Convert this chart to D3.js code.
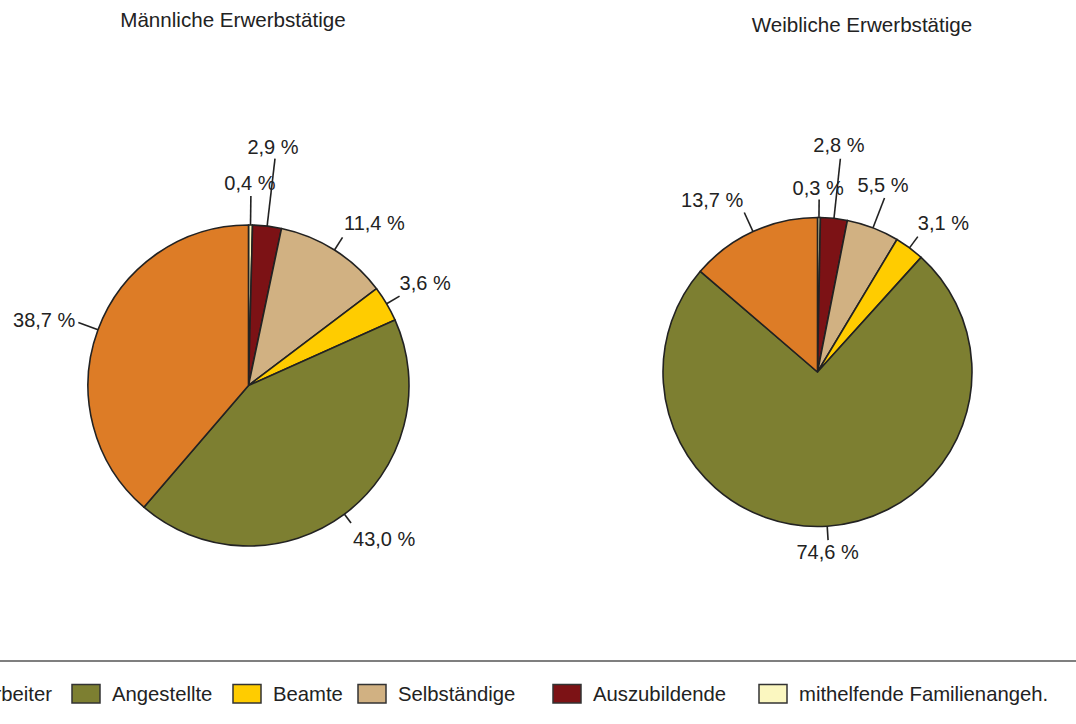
<!DOCTYPE html>
<html>
<head>
<meta charset="utf-8">
<script src="https://cdn.jsdelivr.net/npm/d3@7"></script>
<style>
  html, body { margin: 0; padding: 0; background: #ffffff; }
  svg { display: block; font-family: "Liberation Sans", Arial, sans-serif; }
</style>
</head>
<body>
<svg id="chart" width="1076" height="724"></svg>
<script>
// ---- data ----
const categories = ["mithelfende Familienangeh.", "Auszubildende", "Selbständige", "Beamte", "Angestellte", "Arbeiter"];
const maleValues = [0.4, 2.9, 11.4, 3.6, 43.0, 38.7];
const femaleValues = [0.3, 2.8, 5.5, 3.1, 74.6, 13.7];
const chartTitles = ["Männliche Erwerbstätige", "Weibliche Erwerbstätige"];
const legendOrder = ["Arbeiter", "Angestellte", "Beamte", "Selbständige", "Auszubildende", "mithelfende Familienangeh."];

// ---- styles / layout ----
const colors = {
  "Arbeiter": "#dd7c26",
  "Angestellte": "#7d7f31",
  "Beamte": "#ffcc00",
  "Selbständige": "#d1b182",
  "Auszubildende": "#7c1215",
  "mithelfende Familienangeh.": "#fbf7c0"
};
const textColor = "#222222";
const strokeColor = "#222222";

// per-slice label layout: [leader length, anchor, dx, dy]
const maleLabelLayout = [
  [29, "middle", -1, -6],
  [68, "middle", -2, -4.5],
  [15, "start", 1.5, -7],
  [15, "start", 0, -6],
  [11, "start", 2, 23],
  [21, "end", -3, 5]
];
const femaleLabelLayout = [
  [18, "middle", -1, -4.5],
  [60, "middle", -1.5, -7],
  [32, "middle", -1.5, -6.3],
  [14, "start", 0, -6.6],
  [14, "middle", -0.5, 19],
  [21, "end", -1, -5.6]
];

const pies = [
  { values: maleValues, title: chartTitles[0], cx: 248.5, cy: 385.5, r: 160.5, tx: 233, ty: 27, layout: maleLabelLayout },
  { values: femaleValues, title: chartTitles[1], cx: 817.5, cy: 372, r: 154.5, tx: 862, ty: 32, layout: femaleLabelLayout }
];

const svg = d3.select("#chart");
const fmt = v => d3.format(".1f")(v).replace(".", ",") + " %";

const pieGen = d3.pie().sort(null).value(d => d.value).startAngle(0).endAngle(2 * Math.PI);

pies.forEach(p => {
  const data = categories.map((c, i) => ({ cat: c, value: p.values[i], layout: p.layout[i] }));
  const arcs = pieGen(data);
  const arcGen = d3.arc().innerRadius(0).outerRadius(p.r);

  const g = svg.append("g").attr("transform", `translate(${p.cx},${p.cy})`);

  g.selectAll("path.slice")
    .data(arcs)
    .join("path")
    .attr("class", "slice")
    .attr("d", arcGen)
    .attr("fill", d => colors[d.data.cat])
    .attr("stroke", strokeColor)
    .attr("stroke-width", 1.6)
    .attr("stroke-linejoin", "round");

  // leader lines and labels
  arcs.forEach(a => {
    const mid = (a.startAngle + a.endAngle) / 2;
    const [len, anchor, dx, dy] = a.data.layout;
    const sx = Math.sin(mid), sy = -Math.cos(mid);
    const x0 = sx * p.r, y0 = sy * p.r;
    const x1 = sx * (p.r + len), y1 = sy * (p.r + len);
    g.append("line")
      .attr("x1", x0).attr("y1", y0)
      .attr("x2", x1).attr("y2", y1)
      .attr("stroke", strokeColor)
      .attr("stroke-width", 1.6);
    g.append("text")
      .attr("x", x1 + dx)
      .attr("y", y1 + dy)
      .attr("text-anchor", anchor)
      .attr("font-size", 20)
      .attr("fill", textColor)
      .text(fmt(a.data.value));
  });

  svg.append("text")
    .attr("x", p.tx)
    .attr("y", p.ty)
    .attr("text-anchor", "middle")
    .attr("font-size", 20.6)
    .attr("fill", textColor)
    .text(p.title);
});

// separator line
svg.append("line")
  .attr("x1", 0).attr("x2", 1076)
  .attr("y1", 661).attr("y2", 661)
  .attr("stroke", "#555")
  .attr("stroke-width", 1.6);

// legend
const legendTextX = [-19, 112, 273, 398, 593, 799];
const legend = svg.append("g");
legendOrder.forEach((c, i) => {
  const tx = legendTextX[i];
  legend.append("rect")
    .attr("x", tx - 40)
    .attr("y", 684.5)
    .attr("width", 28)
    .attr("height", 18.5)
    .attr("fill", colors[c])
    .attr("stroke", "#333")
    .attr("stroke-width", 1.5);
  legend.append("text")
    .attr("x", tx)
    .attr("y", 701)
    .attr("font-size", 20.3)
    .attr("fill", textColor)
    .text(c);
});
</script>
</body>
</html>
